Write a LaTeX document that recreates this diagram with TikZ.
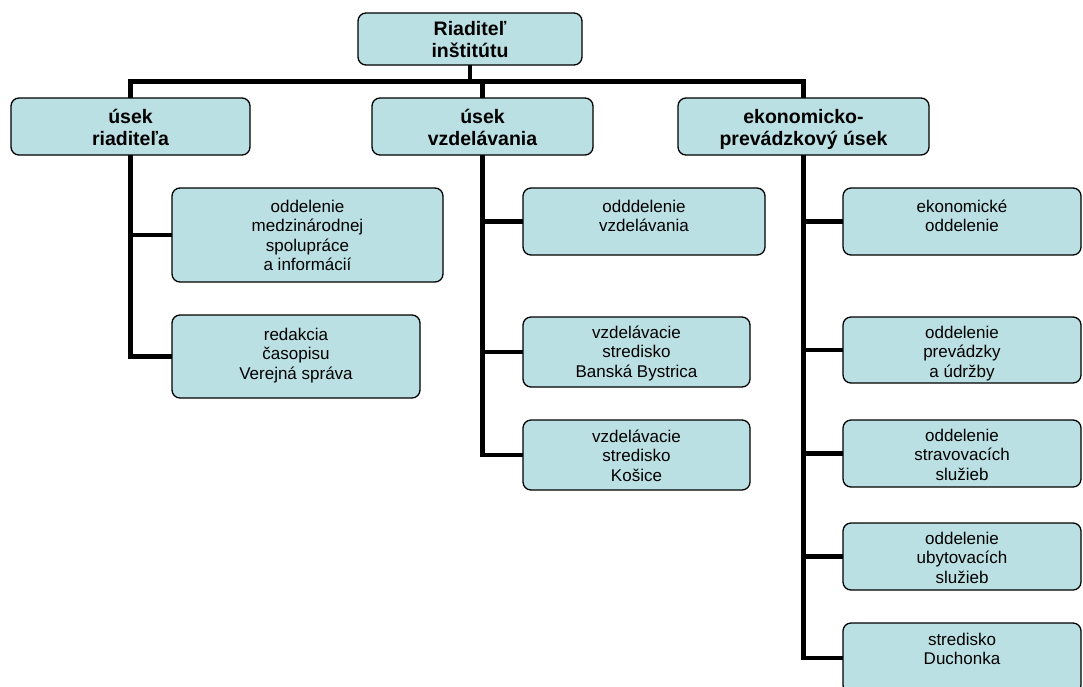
\documentclass[tikz,border=0pt]{standalone}
\usepackage{fontspec}
\setmainfont{Liberation Sans}
\usetikzlibrary{backgrounds}
\definecolor{boxfill}{RGB}{187,224,227}
\newcommand{\boxtxt}[4]{\parbox[c][#2][t]{#1}{\centering\rule{0pt}{#3}#4}}
\tikzset{
  orgbox/.style={draw=black, line width=1.3pt, rounded corners=8pt, fill=boxfill, inner sep=0pt, outer sep=0pt},
  headbox/.style={orgbox, font=\fontsize{19.5}{22.4}\selectfont\bfseries},
  unitbox/.style={orgbox, font=\fontsize{17}{19.5}\selectfont},
  conn/.style={draw=black, line width=4.5pt}
}
\begin{document}
\begin{tikzpicture}[x=1pt, y=-1pt]
\clip (0,0) rectangle (1083,686);
\coordinate (bus) at (0,81.5);
% top
\node[headbox] (top) at (470,39) {\boxtxt{224pt}{52pt}{22pt}{Riaditeľ\\inštitútu}};
% sections
\node[headbox] (s1) at (130.5,126.5) {\boxtxt{239pt}{57pt}{25pt}{úsek\\riaditeľa}};
\node[headbox] (s2) at (482.5,126.5) {\boxtxt{221pt}{57pt}{25pt}{úsek\\vzdelávania}};
\node[headbox] (s3) at (803.5,126.5) {\boxtxt{251pt}{57pt}{25pt}{ekonomicko-\\prevádzkový úsek}};
% column 1
\node[unitbox] (c11) at (307.5,235) {\boxtxt{271pt}{94pt}{24pt}{oddelenie\\medzinárodnej\\spolupráce\\a informácií}};
\node[unitbox] (c12) at (296,356.5) {\boxtxt{248pt}{83pt}{25pt}{redakcia\\časopisu\\Verejná správa}};
% column 2
\node[unitbox] (c21) at (644,221.5) {\boxtxt{242pt}{67pt}{24pt}{odddelenie\\vzdelávania}};
\node[unitbox] (c22) at (636.5,352) {\boxtxt{227pt}{70pt}{21pt}{vzdelávacie\\stredisko\\Banská Bystrica}};
\node[unitbox] (c23) at (636.5,455) {\boxtxt{227pt}{70pt}{22pt}{vzdelávacie\\stredisko\\Košice}};
% column 3
\node[unitbox] (c31) at (962,221.5) {\boxtxt{238pt}{67pt}{24pt}{ekonomické\\oddelenie}};
\node[unitbox] (c32) at (962,350) {\boxtxt{238pt}{66pt}{21pt}{oddelenie\\prevádzky\\a údržby}};
\node[unitbox] (c33) at (962,453.5) {\boxtxt{238pt}{67pt}{21pt}{oddelenie\\stravovacích\\služieb}};
\node[unitbox] (c34) at (962,556.5) {\boxtxt{238pt}{67pt}{21pt}{oddelenie\\ubytovacích\\služieb}};
\node[unitbox] (c35) at (962,658) {\boxtxt{238pt}{70pt}{22pt}{stredisko\\Duchonka}};
\begin{scope}[on background layer]
\fill[white] (0,0) rectangle (1083,686);
\draw[conn] (s1.north) -- (s1.north |- bus) -- (s3.north |- bus) -- (s3.north);
\draw[conn] (top.south) -- (top.south |- bus);
\draw[conn] (s2.north) -- (s2.north |- bus);
\draw[conn] (s1.south) -- (s1.south |- c12.west) -- (c12.west);
\draw[conn] (s1.south |- c11.west) -- (c11.west);
\draw[conn] (s2.south) -- (s2.south |- c23.west) -- (c23.west);
\draw[conn] (s2.south |- c21.west) -- (c21.west);
\draw[conn] (s2.south |- c22.west) -- (c22.west);
\draw[conn] (s3.south) -- (s3.south |- c35.west) -- (c35.west);
\draw[conn] (s3.south |- c31.west) -- (c31.west);
\draw[conn] (s3.south |- c32.west) -- (c32.west);
\draw[conn] (s3.south |- c33.west) -- (c33.west);
\draw[conn] (s3.south |- c34.west) -- (c34.west);
\end{scope}
\end{tikzpicture}
\end{document}
